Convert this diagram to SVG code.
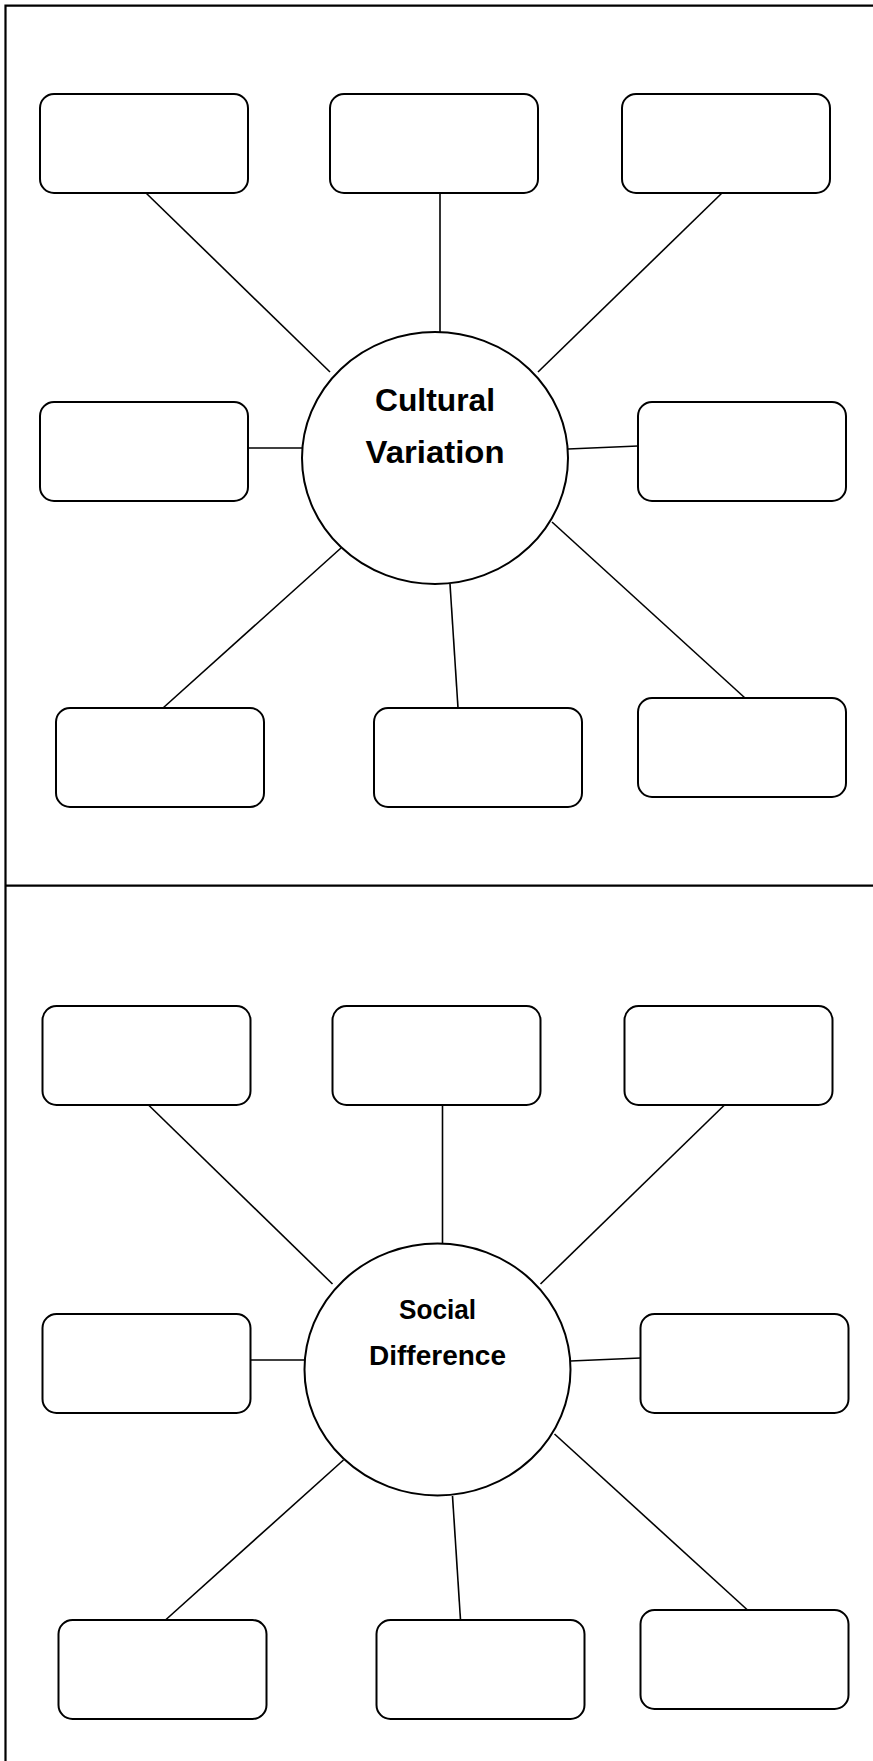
<svg xmlns="http://www.w3.org/2000/svg" width="873" height="1761" viewBox="0 0 873 1761">
<style>
.box{fill:#fff;stroke:#000;stroke-width:2}
.hub{fill:#fff;stroke:#000;stroke-width:2}
.ln{stroke:#000;stroke-width:1.6;fill:none}
.frame{stroke:#000;stroke-width:2.2;fill:none}
.t1{font-family:"Liberation Sans",Arial,sans-serif;font-weight:bold;font-size:32px;text-anchor:middle;fill:#000}
.t2{font-family:"Liberation Sans",Arial,sans-serif;font-weight:bold;font-size:28px;text-anchor:middle;fill:#000}
</style>
<rect width="873" height="1761" fill="#fff"/>
<g id="frame">
<path class="frame" d="M5.5,1761 V5.7 H873"/>
<path class="frame" d="M5.5,885.7 H873"/>
</g>
<g id="connectors">
<line class="ln" x1="146" y1="193" x2="330" y2="372"/>
<line class="ln" x1="440" y1="193" x2="440" y2="332"/>
<line class="ln" x1="722" y1="193" x2="538" y2="372"/>
<line class="ln" x1="248" y1="448" x2="302" y2="448"/>
<line class="ln" x1="568" y1="449" x2="638" y2="446"/>
<line class="ln" x1="341" y1="548" x2="163" y2="708"/>
<line class="ln" x1="450" y1="584" x2="458" y2="708"/>
<line class="ln" x1="552" y1="522" x2="745" y2="698"/>
<line class="ln" x1="148.5" y1="1105" x2="332.5" y2="1284"/>
<line class="ln" x1="442.5" y1="1105" x2="442.5" y2="1244"/>
<line class="ln" x1="724.5" y1="1105" x2="540.5" y2="1284"/>
<line class="ln" x1="250.5" y1="1360" x2="304.5" y2="1360"/>
<line class="ln" x1="570.5" y1="1361" x2="640.5" y2="1358"/>
<line class="ln" x1="343.5" y1="1460" x2="165.5" y2="1620"/>
<line class="ln" x1="452.5" y1="1496" x2="460.5" y2="1620"/>
<line class="ln" x1="554.5" y1="1434" x2="747.5" y2="1610"/>
</g>
<g id="hub1">
<ellipse class="hub" cx="435" cy="458" rx="133" ry="126"/>
<text class="t1" x="435" y="411" textLength="120" lengthAdjust="spacingAndGlyphs">Cultural</text>
<text class="t1" x="435" y="463" textLength="139" lengthAdjust="spacingAndGlyphs">Variation</text>
</g>
<g id="hub2">
<ellipse class="hub" cx="437.5" cy="1369.5" rx="133" ry="126"/>
<text class="t2" x="437.5" y="1319" textLength="77" lengthAdjust="spacingAndGlyphs">Social</text>
<text class="t2" x="437.5" y="1365" textLength="137" lengthAdjust="spacingAndGlyphs">Difference</text>
</g>
<g id="cv-tl"><rect class="box" x="40" y="94" width="208" height="99" rx="14"/></g>
<g id="cv-tm"><rect class="box" x="330" y="94" width="208" height="99" rx="14"/></g>
<g id="cv-tr"><rect class="box" x="622" y="94" width="208" height="99" rx="14"/></g>
<g id="cv-ml"><rect class="box" x="40" y="402" width="208" height="99" rx="14"/></g>
<g id="cv-mr"><rect class="box" x="638" y="402" width="208" height="99" rx="14"/></g>
<g id="cv-bl"><rect class="box" x="56" y="708" width="208" height="99" rx="14"/></g>
<g id="cv-bm"><rect class="box" x="374" y="708" width="208" height="99" rx="14"/></g>
<g id="cv-br"><rect class="box" x="638" y="698" width="208" height="99" rx="14"/></g>
<g id="sd-tl"><rect class="box" x="42.5" y="1006" width="208" height="99" rx="14"/></g>
<g id="sd-tm"><rect class="box" x="332.5" y="1006" width="208" height="99" rx="14"/></g>
<g id="sd-tr"><rect class="box" x="624.5" y="1006" width="208" height="99" rx="14"/></g>
<g id="sd-ml"><rect class="box" x="42.5" y="1314" width="208" height="99" rx="14"/></g>
<g id="sd-mr"><rect class="box" x="640.5" y="1314" width="208" height="99" rx="14"/></g>
<g id="sd-bl"><rect class="box" x="58.5" y="1620" width="208" height="99" rx="14"/></g>
<g id="sd-bm"><rect class="box" x="376.5" y="1620" width="208" height="99" rx="14"/></g>
<g id="sd-br"><rect class="box" x="640.5" y="1610" width="208" height="99" rx="14"/></g>
</svg>
